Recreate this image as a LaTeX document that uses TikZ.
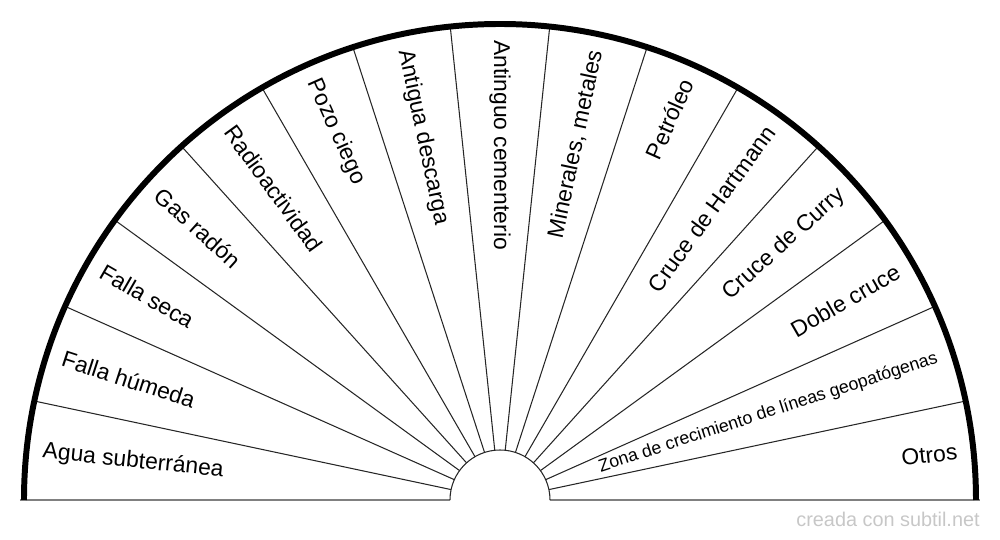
\documentclass[tikz,border=0pt]{standalone}
\usepackage{fontspec}
\setmainfont{Liberation Sans}
\usetikzlibrary{positioning}

\tikzset{
    lbl/.style={font=\fontsize{13}{15}\selectfont, inner sep=0pt},
    smalllbl/.style={font=\fontsize{10.1}{12}\selectfont, inner sep=0pt},
    spoke/.style={line width=0.6pt, black!85},
    base/.style={line width=1.2pt, gray}
}

\begin{document}
\begin{tikzpicture}
    \useasboundingbox (-10,-0.8) rectangle (10,10);

    % base line and inner half circle
    \draw[base] (-9.6,0) -- (-1,0);
    \draw[base] (1,0) -- (9.6,0);
    \draw[spoke] (1,0) arc[start angle=0, end angle=180, radius=1];

    % sector borders
    \foreach \ang in {12,24,...,168}
        \draw[spoke] (\ang:1) -- (\ang:9.5);

    % outer rim
    \draw[line width=3.4pt] (-9.52,0) arc[start angle=180, end angle=0, radius=9.52];

    % left half, read towards the centre
    \node[lbl, anchor=west, rotate=-6]  (agua)  at (174:9.2) {Agua subterránea};
    \node[lbl, anchor=west, rotate=-18] (hum)   at (162:9.2) {Falla húmeda};
    \node[lbl, anchor=west, rotate=-30] (seca)  at (150:9.2) {Falla seca};
    \node[lbl, anchor=west, rotate=-42] (radon) at (138:9.2) {Gas radón};
    \node[lbl, anchor=west, rotate=-54] (radio) at (126:9.2) {Radioactividad};
    \node[lbl, anchor=west, rotate=-66] (pozo)  at (114:9.2) {Pozo ciego};
    \node[lbl, anchor=west, rotate=-78] (desc)  at (102:9.2) {Antigua descarga};
    \node[lbl, anchor=west, rotate=-90] (cem)   at (90:9.2)  {Antinguo cementerio};

    % right half, read towards the rim
    \node[lbl, anchor=east, rotate=78] (min)   at (78:9.2) {Minerales, metales};
    \node[lbl, anchor=east, rotate=66] (petro) at (66:9.2) {Petróleo};
    \node[lbl, anchor=east, rotate=54] (hart)  at (54:9.2) {Cruce de Hartmann};
    \node[lbl, anchor=east, rotate=42] (curry) at (42:9.2) {Cruce de Curry};
    \node[lbl, anchor=east, rotate=30] (doble) at (30:9.2) {Doble cruce};
    \node[smalllbl, anchor=east, rotate=18] (zona) at (18:9.2) {Zona de crecimiento de líneas geopatógenas};
    \node[lbl, anchor=east, rotate=6]  (otros) at (6:9.2)  {Otros};

    \node[font=\fontsize{11.3}{13}\selectfont, text=black!22, anchor=east, inner sep=0pt] (mark) at (9.6,-0.38) {creada con subtil.net};
\end{tikzpicture}
\end{document}
